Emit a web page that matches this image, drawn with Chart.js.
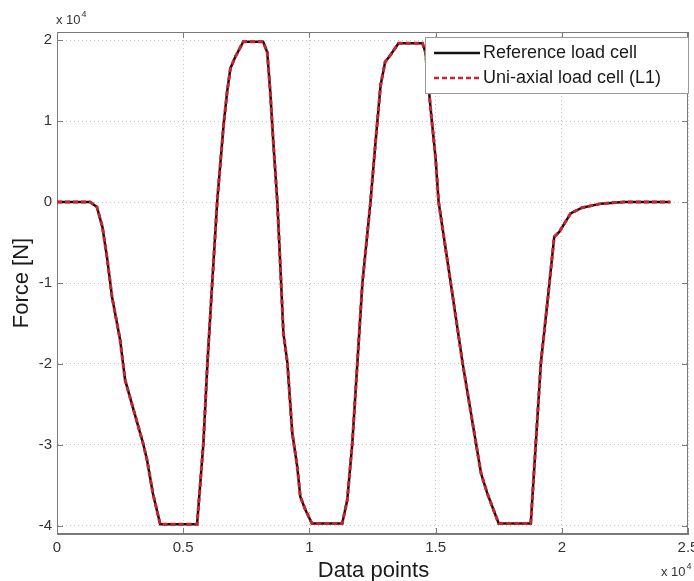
<!DOCTYPE html>
<html>
<head>
<meta charset="utf-8">
<script src="https://cdn.jsdelivr.net/npm/chart.js@4.4.1/dist/chart.umd.min.js"></script>
<style>
  html, body { margin: 0; padding: 0; background: #fff; }
  #wrap { width: 694px; height: 581px; overflow: hidden; position: relative; }
  canvas { display: block; }
</style>
</head>
<body>
<div id="wrap"><canvas id="forceChart" width="740" height="581" style="width:740px;height:581px"></canvas></div>
<script>
// data points (x 10^4)
const dataPoints = [
  0, 0.131, 0.158, 0.18, 0.198, 0.218, 0.23, 0.25, 0.27, 0.341,
  0.357, 0.38, 0.409, 0.555, 0.58, 0.596, 0.615, 0.635, 0.66, 0.674,
  0.687, 0.706, 0.738, 0.817, 0.833, 0.845, 0.857, 0.873, 0.885, 0.897,
  0.913, 0.932, 0.952, 0.964, 0.984, 1.01, 1.13, 1.15, 1.17, 1.19,
  1.21, 1.242, 1.262, 1.282, 1.30, 1.32, 1.353, 1.448, 1.46, 1.48,
  1.50, 1.512, 1.56, 1.607, 1.66, 1.68, 1.705, 1.75, 1.877, 1.897,
  1.917, 1.944, 1.97, 1.99, 2.035, 2.08, 2.155, 2.246, 2.43
];

// force, reference load cell (x 10^4 N)
const refForce = [
  0, 0, -0.06, -0.31, -0.68, -1.17, -1.37, -1.70, -2.2, -2.98,
  -3.19, -3.6, -3.98, -3.98, -2.98, -1.99, -1.0, 0.02, 0.95, 1.36,
  1.65, 1.79, 1.98, 1.98, 1.85, 1.36, 0.74, 0, -0.8, -1.62,
  -1.99, -2.85, -3.27, -3.64, -3.8, -3.97, -3.97, -3.68, -2.98, -1.99,
  -1.0, 0, 0.74, 1.44, 1.73, 1.81, 1.96, 1.96, 1.85, 1.16,
  0.54, 0, -1.0, -1.99, -2.98, -3.35, -3.6, -3.97, -3.97, -2.98,
  -1.99, -1.21, -0.43, -0.37, -0.14, -0.07, -0.02, 0, 0
];

// force, uni-axial load cell L1 (x 10^4 N) - overlaps the reference
const l1Force = [
  0, 0, -0.06, -0.31, -0.68, -1.17, -1.37, -1.70, -2.2, -2.98,
  -3.19, -3.6, -3.98, -3.98, -2.98, -1.99, -1.0, 0.02, 0.95, 1.36,
  1.65, 1.79, 1.98, 1.98, 1.85, 1.36, 0.74, 0, -0.8, -1.62,
  -1.99, -2.85, -3.27, -3.64, -3.8, -3.97, -3.97, -3.68, -2.98, -1.99,
  -1.0, 0, 0.74, 1.44, 1.73, 1.81, 1.96, 1.96, 1.85, 1.16,
  0.54, 0, -1.0, -1.99, -2.98, -3.35, -3.6, -3.97, -3.97, -2.98,
  -1.99, -1.21, -0.43, -0.37, -0.14, -0.07, -0.02, 0, 0
];

const xTicks = [0, 0.5, 1, 1.5, 2, 2.5];
const xTickLabels = ['0', '0.5', '1', '1.5', '2', '2.5'];
const yTicks = [-4, -3, -2, -1, 0, 1, 2];

const seriesNames = ['Reference load cell', 'Uni-axial load cell (L1)'];

const FONT = "'Liberation Sans', Arial, sans-serif";
const AXIS_GRAY = '#7a7a7a';
const RED = '#d0212d';

const toPoints = ys => dataPoints.map((x, i) => ({ x, y: ys[i] }));

// "x 10^4" with a raised exponent
function drawExponent(ctx, x, y) {
  ctx.font = '13px ' + FONT;
  ctx.fillText('x 10', x, y);
  const w = ctx.measureText('x 10').width;
  ctx.font = '9px ' + FONT;
  ctx.fillText('4', x + w + 1, y - 7);
}

// frame, inward ticks, legend, axis titles and exponent labels
const matlabLook = {
  id: 'matlabLook',
  beforeDatasetsDraw(chart) {
    const { ctx, chartArea: a, scales } = chart;
    ctx.save();
    ctx.strokeStyle = AXIS_GRAY;
    ctx.lineWidth = 1;
    ctx.strokeRect(a.left + 0.5, a.top + 0.5, a.right - a.left - 1, a.bottom - a.top - 1);
    ctx.beginPath();
    xTicks.forEach(v => {
      const px = Math.round(scales.x.getPixelForValue(v)) + 0.5;
      ctx.moveTo(px, a.bottom); ctx.lineTo(px, a.bottom - 6);
      ctx.moveTo(px, a.top); ctx.lineTo(px, a.top + 6);
    });
    yTicks.forEach(v => {
      const py = Math.round(scales.y.getPixelForValue(v)) + 0.5;
      ctx.moveTo(a.left, py); ctx.lineTo(a.left + 6, py);
      ctx.moveTo(a.right, py); ctx.lineTo(a.right - 6, py);
    });
    ctx.stroke();
    ctx.restore();
  },
  afterDraw(chart) {
    const { ctx, chartArea: a } = chart;
    ctx.save();

    // legend
    const lx = 425, ly = 37, lw = 263, lh = 56;
    ctx.fillStyle = '#fff';
    ctx.fillRect(lx, ly, lw, lh);
    ctx.strokeStyle = '#9a9a9a';
    ctx.lineWidth = 1;
    ctx.strokeRect(lx + 0.5, ly + 0.5, lw, lh);

    ctx.lineWidth = 2.5;
    ctx.strokeStyle = '#111';
    ctx.beginPath(); ctx.moveTo(434, 53); ctx.lineTo(480, 53); ctx.stroke();
    ctx.strokeStyle = RED;
    ctx.setLineDash([5, 3]);
    ctx.beginPath(); ctx.moveTo(434, 78); ctx.lineTo(480, 78); ctx.stroke();
    ctx.setLineDash([]);

    ctx.fillStyle = '#1a1a1a';
    ctx.font = '18px ' + FONT;
    ctx.textAlign = 'left';
    ctx.textBaseline = 'middle';
    ctx.fillText(seriesNames[0], 483, 53);
    ctx.fillText(seriesNames[1], 483, 78);

    // axis titles
    ctx.font = '22px ' + FONT;
    ctx.textAlign = 'center';
    ctx.textBaseline = 'alphabetic';
    ctx.fillText('Data points', (a.left + a.right) / 2 + 1, 577);
    ctx.save();
    ctx.translate(28, (a.top + a.bottom) / 2);
    ctx.rotate(-Math.PI / 2);
    ctx.fillText('Force [N]', 0, 0);
    ctx.restore();

    // exponent labels
    ctx.fillStyle = '#333';
    ctx.textAlign = 'left';
    drawExponent(ctx, 56, 24);
    drawExponent(ctx, 661, 576);

    ctx.restore();
  }
};

const ctx = document.getElementById('forceChart').getContext('2d');

new Chart(ctx, {
  type: 'line',
  data: {
    datasets: [
      {
        label: seriesNames[1],
        data: toPoints(l1Force),
        borderColor: RED,
        borderWidth: 3,
        borderDash: [5, 3],
        pointRadius: 0,
        tension: 0,
        order: 0
      },
      {
        label: seriesNames[0],
        data: toPoints(refForce),
        borderColor: '#111',
        borderWidth: 2.5,
        pointRadius: 0,
        tension: 0,
        order: 1
      }
    ]
  },
  options: {
    responsive: false,
    animation: false,
    layout: { padding: { left: 0, top: 32, right: 52, bottom: 0 } },
    plugins: {
      legend: { display: false },
      tooltip: { enabled: false }
    },
    scales: {
      x: {
        type: 'linear',
        min: 0,
        max: 2.5,
        afterBuildTicks: axis => { axis.ticks = xTicks.map(v => ({ value: v })); },
        afterFit: axis => { axis.height = 47; },
        ticks: {
          autoSkip: false,
          maxRotation: 0,
          padding: 5,
          color: '#333',
          font: { family: FONT, size: 15 },
          callback: v => xTickLabels[xTicks.indexOf(v)]
        },
        grid: { color: '#c4c4c4', lineWidth: 1, drawTicks: false },
        border: { display: true, color: AXIS_GRAY, width: 1, dash: [1, 3] }
      },
      y: {
        min: -4.1,
        max: 2.1,
        afterBuildTicks: axis => { axis.ticks = yTicks.map(v => ({ value: v })); },
        afterFit: axis => { axis.width = 57; },
        ticks: {
          padding: 5,
          color: '#333',
          font: { family: FONT, size: 15 },
          callback: v => String(v)
        },
        grid: { color: '#c4c4c4', lineWidth: 1, drawTicks: false },
        border: { display: true, color: AXIS_GRAY, width: 1, dash: [1, 3] }
      }
    }
  },
  plugins: [matlabLook]
});
</script>
</body>
</html>
